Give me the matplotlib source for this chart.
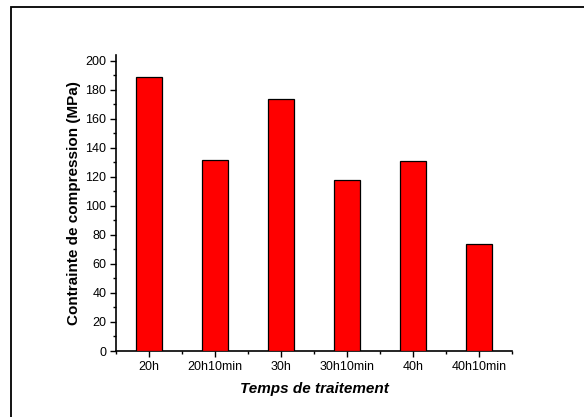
import numpy as np
import matplotlib.pyplot as plt
from matplotlib.patches import Rectangle
from matplotlib.ticker import MultipleLocator, FixedLocator

plt.rcParams['font.family'] = ['Liberation Sans', 'DejaVu Sans']

# Data
categories = ['20h', '20h10min', '30h', '30h10min', '40h', '40h10min']
stress = [188.8, 131.5, 173.8, 117.9, 130.8, 73.6]

fig = plt.figure(figsize=(5.84, 4.17), dpi=100)
ax = fig.add_axes([116/584, 1 - 351/417, (512 - 116)/584, (351 - 55)/417])

x = np.arange(len(categories))
ax.bar(x, stress, width=0.4, color='#ff0000', edgecolor='black', linewidth=0.9, zorder=3)

ax.set_xlim(-0.5, len(categories) - 0.5)
ax.set_ylim(0, 204)

ax.spines['top'].set_visible(False)
ax.spines['right'].set_visible(False)
for s in ['left', 'bottom']:
    ax.spines[s].set_linewidth(1.2)

ax.set_xticks(x)
ax.set_xticklabels(categories)
ax.xaxis.set_minor_locator(FixedLocator(np.arange(-0.5, len(categories), 1.0)))
ax.yaxis.set_major_locator(MultipleLocator(20))
ax.yaxis.set_minor_locator(MultipleLocator(10))
ax.tick_params(which='major', direction='out', length=4, width=1, labelsize=9, pad=3)
ax.tick_params(which='minor', direction='out', length=2.5, width=1)

ax.set_ylabel('Contrainte de compression (MPa)', fontsize=11, fontweight='bold', labelpad=3)
ax.set_xlabel('Temps de traitement', fontsize=11, fontweight='bold', style='italic', labelpad=7)

# frame around the figure
fig.patches.append(Rectangle((11/584, -0.1), 1.0, 1.1 - 7/417, transform=fig.transFigure,
                             fill=False, edgecolor='black', linewidth=1.3))

fig.savefig('out.png', dpi=100)
